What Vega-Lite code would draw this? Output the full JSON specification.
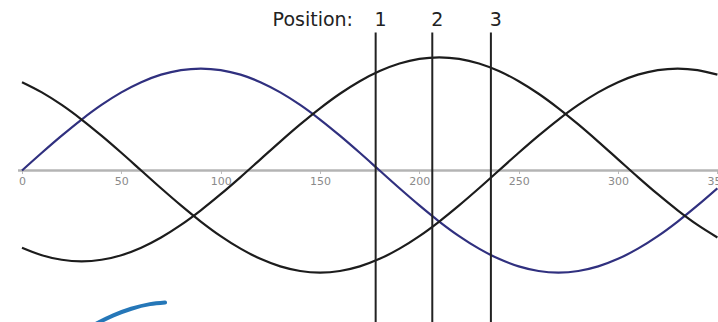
{
  "$schema": "https://vega.github.io/schema/vega-lite/v6.json",
  "width": 718,
  "height": 322,
  "autosize": "none",
  "padding": 0,
  "background": "white",
  "config": {"view": {"stroke": null}},
  "datasets": {
    "curves": [
      {"series": "phase1", "x": 0, "y": 0}, {"series": "phase1", "x": 10, "y": 0.174}, {"series": "phase1", "x": 20, "y": 0.342}, {"series": "phase1", "x": 30, "y": 0.5}, {"series": "phase1", "x": 40, "y": 0.643}, {"series": "phase1", "x": 50, "y": 0.766}, {"series": "phase1", "x": 60, "y": 0.866}, {"series": "phase1", "x": 70, "y": 0.94}, {"series": "phase1", "x": 80, "y": 0.985}, {"series": "phase1", "x": 90, "y": 1}, {"series": "phase1", "x": 100, "y": 0.985}, {"series": "phase1", "x": 110, "y": 0.94}, {"series": "phase1", "x": 120, "y": 0.866}, {"series": "phase1", "x": 130, "y": 0.766}, {"series": "phase1", "x": 140, "y": 0.643}, {"series": "phase1", "x": 150, "y": 0.5}, {"series": "phase1", "x": 160, "y": 0.342}, {"series": "phase1", "x": 170, "y": 0.174}, {"series": "phase1", "x": 180, "y": 0}, {"series": "phase1", "x": 190, "y": -0.174}, {"series": "phase1", "x": 200, "y": -0.342}, {"series": "phase1", "x": 210, "y": -0.5}, {"series": "phase1", "x": 220, "y": -0.643}, {"series": "phase1", "x": 230, "y": -0.766}, {"series": "phase1", "x": 240, "y": -0.866}, {"series": "phase1", "x": 250, "y": -0.94}, {"series": "phase1", "x": 260, "y": -0.985}, {"series": "phase1", "x": 270, "y": -1}, {"series": "phase1", "x": 280, "y": -0.985}, {"series": "phase1", "x": 290, "y": -0.94}, {"series": "phase1", "x": 300, "y": -0.866}, {"series": "phase1", "x": 310, "y": -0.766}, {"series": "phase1", "x": 320, "y": -0.643}, {"series": "phase1", "x": 330, "y": -0.5}, {"series": "phase1", "x": 340, "y": -0.342}, {"series": "phase1", "x": 350, "y": -0.174},
      {"series": "phase2", "x": 0, "y": 0.866}, {"series": "phase2", "x": 10, "y": 0.766}, {"series": "phase2", "x": 20, "y": 0.643}, {"series": "phase2", "x": 30, "y": 0.5}, {"series": "phase2", "x": 40, "y": 0.342}, {"series": "phase2", "x": 50, "y": 0.174}, {"series": "phase2", "x": 60, "y": 0}, {"series": "phase2", "x": 70, "y": -0.174}, {"series": "phase2", "x": 80, "y": -0.342}, {"series": "phase2", "x": 90, "y": -0.5}, {"series": "phase2", "x": 100, "y": -0.643}, {"series": "phase2", "x": 110, "y": -0.766}, {"series": "phase2", "x": 120, "y": -0.866}, {"series": "phase2", "x": 130, "y": -0.94}, {"series": "phase2", "x": 140, "y": -0.985}, {"series": "phase2", "x": 150, "y": -1}, {"series": "phase2", "x": 160, "y": -0.985}, {"series": "phase2", "x": 170, "y": -0.94}, {"series": "phase2", "x": 180, "y": -0.866}, {"series": "phase2", "x": 190, "y": -0.766}, {"series": "phase2", "x": 200, "y": -0.643}, {"series": "phase2", "x": 210, "y": -0.5}, {"series": "phase2", "x": 220, "y": -0.342}, {"series": "phase2", "x": 230, "y": -0.174}, {"series": "phase2", "x": 240, "y": 0}, {"series": "phase2", "x": 250, "y": 0.174}, {"series": "phase2", "x": 260, "y": 0.342}, {"series": "phase2", "x": 270, "y": 0.5}, {"series": "phase2", "x": 280, "y": 0.643}, {"series": "phase2", "x": 290, "y": 0.766}, {"series": "phase2", "x": 300, "y": 0.866}, {"series": "phase2", "x": 310, "y": 0.94}, {"series": "phase2", "x": 320, "y": 0.985}, {"series": "phase2", "x": 330, "y": 1}, {"series": "phase2", "x": 340, "y": 0.985}, {"series": "phase2", "x": 350, "y": 0.94},
      {"series": "phase3", "x": 0, "y": -0.756}, {"series": "phase3", "x": 10, "y": -0.83}, {"series": "phase3", "x": 20, "y": -0.875}, {"series": "phase3", "x": 30, "y": -0.89}, {"series": "phase3", "x": 40, "y": -0.875}, {"series": "phase3", "x": 50, "y": -0.83}, {"series": "phase3", "x": 60, "y": -0.756}, {"series": "phase3", "x": 70, "y": -0.656}, {"series": "phase3", "x": 80, "y": -0.533}, {"series": "phase3", "x": 90, "y": -0.39}, {"series": "phase3", "x": 100, "y": -0.232}, {"series": "phase3", "x": 110, "y": -0.064}, {"series": "phase3", "x": 120, "y": 0.11}, {"series": "phase3", "x": 130, "y": 0.284}, {"series": "phase3", "x": 140, "y": 0.452}, {"series": "phase3", "x": 150, "y": 0.61}, {"series": "phase3", "x": 160, "y": 0.753}, {"series": "phase3", "x": 170, "y": 0.876}, {"series": "phase3", "x": 180, "y": 0.976}, {"series": "phase3", "x": 190, "y": 1.05}, {"series": "phase3", "x": 200, "y": 1.095}, {"series": "phase3", "x": 210, "y": 1.11}, {"series": "phase3", "x": 220, "y": 1.095}, {"series": "phase3", "x": 230, "y": 1.05}, {"series": "phase3", "x": 240, "y": 0.976}, {"series": "phase3", "x": 250, "y": 0.876}, {"series": "phase3", "x": 260, "y": 0.753}, {"series": "phase3", "x": 270, "y": 0.61}, {"series": "phase3", "x": 280, "y": 0.452}, {"series": "phase3", "x": 290, "y": 0.284}, {"series": "phase3", "x": 300, "y": 0.11}, {"series": "phase3", "x": 310, "y": -0.064}, {"series": "phase3", "x": 320, "y": -0.232}, {"series": "phase3", "x": 330, "y": -0.39}, {"series": "phase3", "x": 340, "y": -0.533}, {"series": "phase3", "x": 350, "y": -0.656}
    ],
    "positions": [
      {"label": "1", "x": 178},
      {"label": "2", "x": 206.5},
      {"label": "3", "x": 236}
    ],
    "axisline": [{"x": -2, "x2": 356, "y": 0}],
    "logo": [
      {"x": 37.5, "y": -1.5},
      {"x": 46, "y": -1.42},
      {"x": 55, "y": -1.355},
      {"x": 64.4, "y": -1.31},
      {"x": 72, "y": -1.294}
    ]
  },
  "layer": [
    {
      "data": {"name": "axisline"},
      "mark": {"type": "rule", "color": "#b4b4b4", "strokeWidth": 2.5},
      "encoding": {
        "x": {
          "field": "x",
          "type": "quantitative",
          "scale": {"domain": [-11.07, 350.3], "nice": false, "zero": false},
          "axis": {
            "orient": "bottom",
            "offset": -151.5,
            "values": [0, 50, 100, 150, 200, 250, 300, 350],
            "domain": false,
            "grid": false,
            "ticks": true,
            "tickSize": 3,
            "tickColor": "#bbbbbb",
            "labelPadding": 2,
            "labelFont": "DejaVu Sans",
            "labelFontSize": 11,
            "labelColor": "#8a8a8a",
            "labelFlush": false,
            "labelOverlap": false,
            "labelBound": false,
            "title": null
          }
        },
        "x2": {"field": "x2"},
        "y": {
          "field": "y",
          "type": "quantitative",
          "scale": {"domain": [-1.485, 1.672], "nice": false, "zero": false},
          "axis": null
        }
      }
    },
    {
      "data": {"name": "curves"},
      "mark": {"type": "line", "strokeWidth": 2.2, "interpolate": "monotone"},
      "encoding": {
        "x": {"field": "x", "type": "quantitative"},
        "y": {"field": "y", "type": "quantitative"},
        "color": {
          "field": "series",
          "type": "nominal",
          "scale": {"domain": ["phase1", "phase2", "phase3"], "range": ["#30307f", "#1c1c1c", "#1c1c1c"]},
          "legend": null
        }
      }
    },
    {
      "data": {"name": "positions"},
      "mark": {"type": "rule", "color": "#222222", "strokeWidth": 2},
      "encoding": {
        "x": {"field": "x", "type": "quantitative"},
        "y": {"datum": 1.353, "type": "quantitative"},
        "y2": {"datum": -1.485}
      }
    },
    {
      "data": {"name": "positions"},
      "mark": {"type": "text", "font": "DejaVu Sans", "fontSize": 19, "color": "#222222", "align": "center", "baseline": "middle", "dx": 5},
      "encoding": {
        "x": {"field": "x", "type": "quantitative"},
        "y": {"datum": 1.48, "type": "quantitative"},
        "text": {"field": "label"}
      }
    },
    {
      "data": {"values": [{"t": "Position:", "x": 166.6}]},
      "mark": {"type": "text", "font": "DejaVu Sans", "fontSize": 19, "color": "#222222", "align": "right", "baseline": "middle"},
      "encoding": {
        "x": {"field": "x", "type": "quantitative"},
        "y": {"datum": 1.48, "type": "quantitative"},
        "text": {"field": "t"}
      }
    },
    {
      "data": {"name": "logo"},
      "mark": {"type": "line", "color": "#2577b8", "strokeWidth": 4, "interpolate": "monotone", "strokeCap": "round"},
      "encoding": {
        "x": {"field": "x", "type": "quantitative"},
        "y": {"field": "y", "type": "quantitative"}
      }
    }
  ]
}
